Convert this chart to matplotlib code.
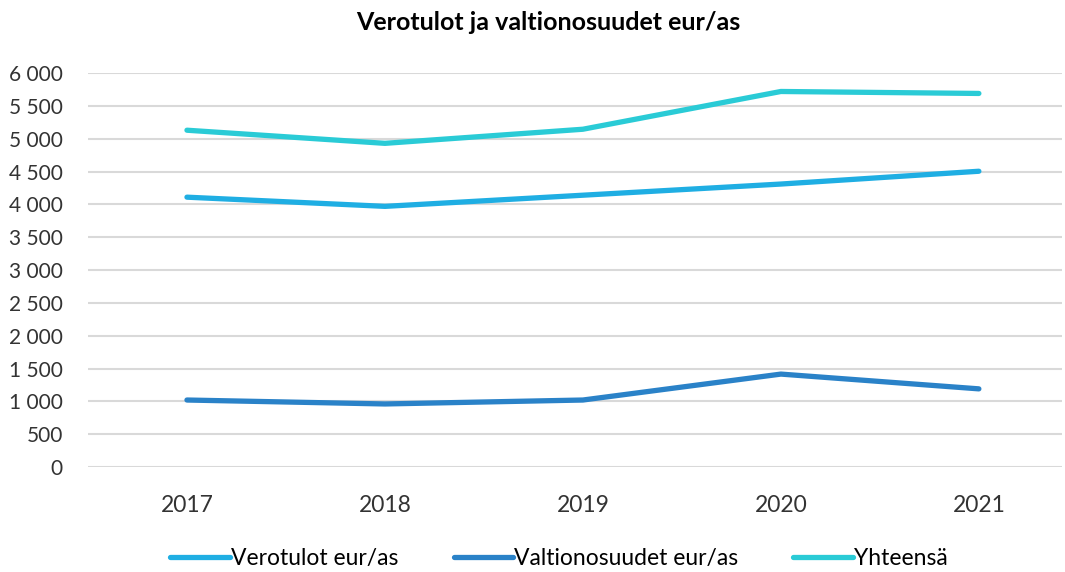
import matplotlib.pyplot as plt
from matplotlib.ticker import FuncFormatter

plt.rcParams['font.family'] = ['Lato', 'DejaVu Sans']

# data
years = ['2017', '2018', '2019', '2020', '2021']
verotulot = [4110, 3970, 4140, 4310, 4505]
valtionosuudet = [1020, 960, 1020, 1415, 1190]
yhteensa = [5130, 4930, 5145, 5720, 5690]

fig = plt.figure(figsize=(10.65, 5.72), dpi=100)
ax = fig.add_axes([0.0826, 0.1836, 0.9146, 0.6886])

x = range(len(years))
ax.plot(x, verotulot, color='#1FAEE3', lw=3.8, solid_capstyle='round', label='Verotulot eur/as')
ax.plot(x, valtionosuudet, color='#2A82C8', lw=3.8, solid_capstyle='round', label='Valtionosuudet eur/as')
ax.plot(x, yhteensa, color='#2ACBD6', lw=3.8, solid_capstyle='round', label='Yhteensä')

ax.set_xlim(-0.5, 4.42)
ax.set_ylim(0, 6000)
ax.set_yticks(range(0, 6001, 500))
ax.yaxis.set_major_formatter(FuncFormatter(lambda v, p: f'{int(v):,}'.replace(',', ' ')))
ax.set_xticks(list(x))
ax.set_xticklabels(years)
ax.grid(axis='y', color='#d9d9d9', lw=1.5)
ax.set_axisbelow(True)
for s in ax.spines.values():
    s.set_visible(False)
ax.tick_params(axis='y', length=0, labelsize=15, colors='#333333', pad=18)
ax.tick_params(axis='x', length=0, labelsize=16.5, colors='#333333', pad=20)

fig.suptitle('Verotulot ja valtionosuudet eur/as', x=0.515, y=0.98, fontsize=18, fontweight='bold')
fig.legend(loc='lower center', bbox_to_anchor=(0.525, -0.03), ncol=3, frameon=False,
           fontsize=16.5, handlelength=2.6, columnspacing=2.4, handletextpad=0.05)

fig.savefig('out.png', dpi=100)
